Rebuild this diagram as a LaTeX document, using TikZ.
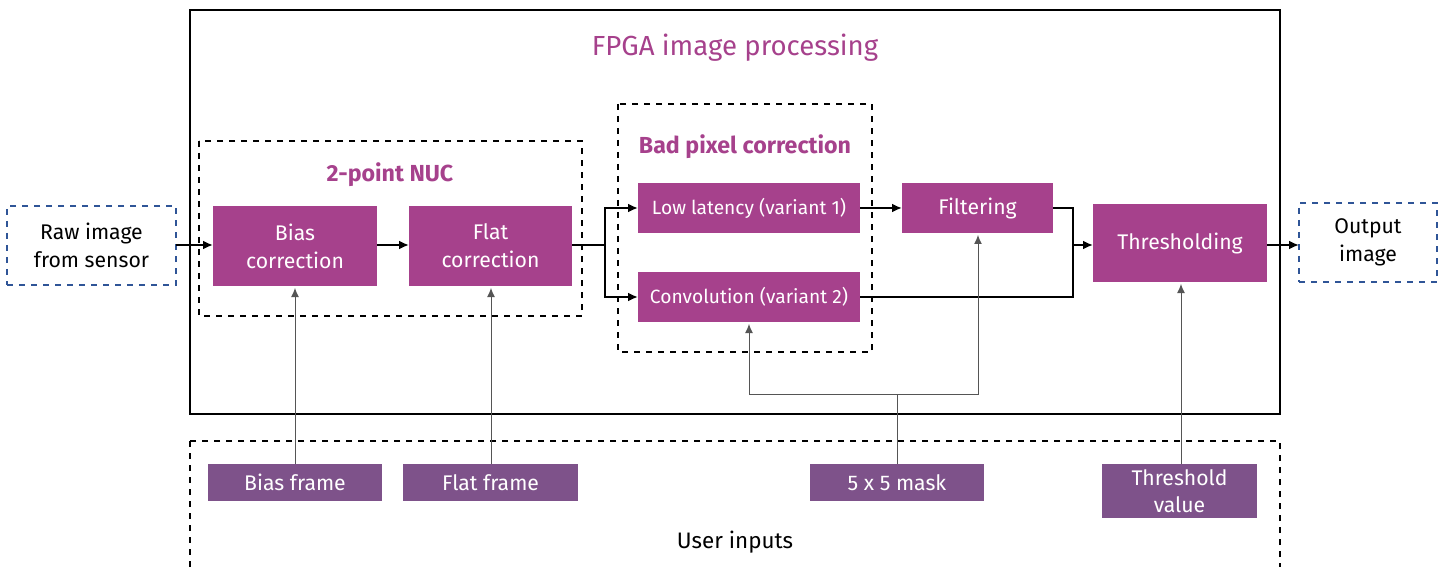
\documentclass[tikz,border=0pt]{standalone}
\usepackage{fontspec}
\setmainfont{Fira Sans}
\usetikzlibrary{arrows.meta}
\definecolor{procmag}{HTML}{A6418C}
\definecolor{inpurple}{HTML}{7E528A}
\definecolor{ioblue}{HTML}{2F5597}
\definecolor{feedgray}{HTML}{555555}
\tikzset{
  x=0.5pt, y=-0.5pt,
  box/.style={inner sep=0pt, outer sep=0pt, align=center},
  procbox/.style={box, fill=procmag, text=white, font=\fontsize{10.6}{14}\selectfont},
  inbox/.style={box, fill=inpurple, text=white, font=\fontsize{10.6}{13.5}\selectfont},
  iobox/.style={box, draw=ioblue, dashed, line width=0.6pt, font=\fontsize{10.6}{14}\selectfont},
  groupbox/.style={draw=black, dashed, line width=0.6pt},
  grouptitle/.style={text=procmag, font=\fontsize{11.6}{14}\selectfont\bfseries},
  flow/.style={line width=1.1pt, -{Latex[length=5pt,width=4.5pt]}},
  flowline/.style={line width=1.1pt},
  feed/.style={draw=feedgray, line width=0.5pt, -{Latex[length=4.5pt,width=4pt]}, shorten >=1pt},
  feedline/.style={draw=feedgray, line width=0.5pt},
}
\begin{document}
\begin{tikzpicture}
\useasboundingbox (0,0) rectangle (1442,567);
\clip (0,0) rectangle (1442,567);

% enclosing FPGA frame and user-input area
\draw[line width=0.8pt] (190,10) rectangle (1280,414);
\node[text=procmag, font=\fontsize{13.8}{16}\selectfont] (fpga) at (735,48) {FPGA image processing};
\draw[groupbox] (190,441) rectangle (1280,620);
\node[font=\fontsize{11.2}{13}\selectfont] (user) at (735,542) {User inputs};

% processing groups
\draw[groupbox] (199,141) rectangle (582,316);
\node[grouptitle] (nuc) at (390,175) {2-point NUC};
\draw[groupbox] (618,104) rectangle (872,352);
\node[grouptitle] (bpc) at (745,147) {Bad pixel correction};

% blocks
\node[iobox, minimum width=84.5pt, minimum height=39.5pt] (raw) at (91.5,245.5) {Raw image\\from sensor};
\node[procbox, minimum width=82pt, minimum height=40pt] (bias) at (295,246) {Bias\\correction};
\node[procbox, minimum width=81.5pt, minimum height=40pt] (flat) at (490.5,246) {Flat\\correction};
\node[procbox, minimum width=111pt, minimum height=25pt, font=\fontsize{9.6}{11}\selectfont] (low) at (749,208) {Low latency (variant 1)};
\node[procbox, minimum width=111pt, minimum height=25pt, font=\fontsize{9.6}{11}\selectfont] (conv) at (749,297) {Convolution (variant 2)};
\node[procbox, minimum width=75.5pt, minimum height=25pt] (filt) at (977.5,208) {Filtering};
\node[procbox, minimum width=87pt, minimum height=39pt] (thr) at (1180,243) {Thresholding};
\node[iobox, minimum width=69pt, minimum height=39.5pt] (out) at (1368,242.5) {Output\\image};

% user inputs
\node[inbox, minimum width=87pt, minimum height=18.5pt] (biasf) at (295,482.5) {Bias frame};
\node[inbox, minimum width=87.5pt, minimum height=18.5pt] (flatf) at (490.5,482.5) {Flat frame};
\node[inbox, minimum width=87pt, minimum height=18.5pt] (mask) at (897,482.5) {5 x 5 mask};
\node[inbox, minimum width=77.5pt, minimum height=27pt] (thrv) at (1179.5,491) {Threshold\\value};

% junction points
\coordinate (split) at (605,245);
\coordinate (merge) at (1073,245);
\coordinate (mjoin) at (897,394);

% main data path
\draw[flow] (raw.east |- 0,245) -- (bias.west |- 0,245);
\draw[flow] (bias.east |- 0,245) -- (flat.west |- 0,245);
\draw[flowline] (flat.east |- 0,245) -- (split);
\draw[flow] (split) |- (low.west);
\draw[flow] (split) |- (conv.west);
\draw[flow] (low.east) -- (filt.west);
\draw[flowline] (filt.east) -| (merge);
\draw[flowline] (conv.east) -| (merge);
\draw[flow] (merge) -- (thr.west |- merge);
\draw[flow] (thr.east |- merge) -- (out.west |- merge);

% parameter feeds
\draw[feed] (biasf.north) -- (bias.south);
\draw[feed] (flatf.north -| 491,0) -- (flat.south -| 491,0);
\draw[feed] (thrv.north -| 1181,0) -- (thr.south -| 1181,0);
\draw[feedline] (mask.north) -- (mjoin);
\draw[feed] (mjoin) -| (conv.south);
\draw[feed] (mjoin) -| (filt.south -| 978,0);
\end{tikzpicture}
\end{document}
